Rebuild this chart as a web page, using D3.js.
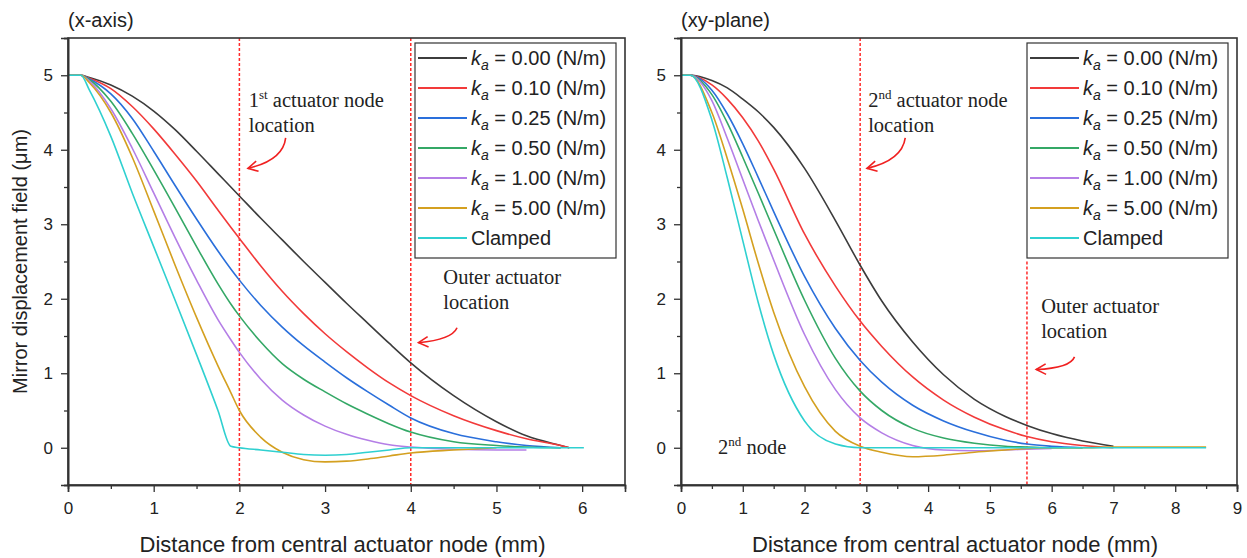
<!DOCTYPE html>
<html>
<head>
<meta charset="UTF-8">
<style>
  body { margin: 0; background: #fff; }
  svg text { font-family: "Liberation Sans", Arial, sans-serif; fill: #222; }
  svg text.serif { font-family: "Liberation Serif", "Times New Roman", serif; }
</style>
</head>
<body>
<svg id="chart" width="1247" height="558"></svg>
<script src="https://d3js.org/d3.v7.min.js"></script>
<script>

// ---- data ----
const kaLabels = ["0.00", "0.10", "0.25", "0.50", "1.00", "5.00"];
const clampedLabel = "Clamped";
const seriesColors = ["#3c3c3c", "#f23a3a", "#2a6fdb", "#34a866", "#b47ee6", "#d4a020", "#2fd0d0"];

const xTicksLeft = [0, 1, 2, 3, 4, 5, 6];
const xTicksRight = [0, 1, 2, 3, 4, 5, 6, 7, 8, 9];
const yTicks = [0, 1, 2, 3, 4, 5];

// (x-axis) panel
const leftX     = [0, 0.15, 0.25, 0.5, 0.75, 1, 1.25, 1.5, 1.75, 1.9, 2, 2.25, 2.5, 2.75, 3, 3.25, 3.5, 3.75, 4, 4.5, 5, 5.35, 5.75, 5.85, 6.02];
const leftK000  = [5, 5, 4.97, 4.87, 4.72, 4.52, 4.27, 3.98, 3.68, 3.5, 3.38, 3.08, 2.79, 2.5, 2.22, 1.94, 1.67, 1.4, 1.14, 0.7, 0.35, 0.16, 0.03, 0, null];
const leftK010  = [5, 5, 4.96, 4.82, 4.58, 4.28, 3.94, 3.58, 3.19, 2.96, 2.81, 2.44, 2.1, 1.8, 1.53, 1.29, 1.07, 0.87, 0.7, 0.43, 0.23, 0.12, 0.03, 0, null];
const leftK025  = [5, 5, 4.95, 4.75, 4.42, 3.98, 3.52, 3.07, 2.64, 2.4, 2.25, 1.91, 1.62, 1.37, 1.15, 0.94, 0.75, 0.57, 0.4, 0.19, 0.08, 0.03, 0, null, null];
const leftK050  = [5, 5, 4.94, 4.65, 4.22, 3.73, 3.22, 2.7, 2.2, 1.93, 1.77, 1.42, 1.13, 0.92, 0.75, 0.59, 0.45, 0.32, 0.21, 0.08, 0.03, 0.01, 0, null, null];
const leftK100  = [5, 5, 4.92, 4.55, 4.02, 3.42, 2.82, 2.25, 1.72, 1.45, 1.28, 0.92, 0.64, 0.44, 0.29, 0.18, 0.1, 0.04, 0.01, -0.02, -0.03, -0.03, null, null, null];
const leftK500  = [5, 5, 4.9, 4.5, 3.9, 3.18, 2.45, 1.75, 1.1, 0.74, 0.5, 0.14, -0.06, -0.16, -0.19, -0.18, -0.15, -0.11, -0.07, -0.03, 0, null, null, null, null];
const leftClamp = [5, 5, 4.8, 4.18, 3.42, 2.7, 1.98, 1.25, 0.5, 0.02, 0, -0.03, -0.06, -0.09, -0.1, -0.09, -0.06, -0.03, 0, 0, 0, 0, 0, 0, 0];

// (xy-plane) panel
const rightX     = [0, 0.15, 0.5, 0.75, 1, 1.25, 1.5, 2, 2.5, 2.9, 3.25, 3.75, 4.25, 4.75, 5.25, 5.6, 6, 6.5, 7, 7.5, 8, 8.5];
const rightK000  = [5, 5, 4.93, 4.83, 4.68, 4.51, 4.3, 3.75, 3.05, 2.45, 1.97, 1.42, 0.98, 0.65, 0.42, 0.3, 0.19, 0.09, 0.02, null, null, null];
const rightK010  = [5, 5, 4.87, 4.68, 4.43, 4.12, 3.74, 2.87, 2.17, 1.7, 1.36, 0.95, 0.64, 0.41, 0.24, 0.15, 0.08, 0.03, 0, null, null, null];
const rightK025  = [5, 5, 4.8, 4.48, 4.08, 3.63, 3.17, 2.3, 1.6, 1.17, 0.88, 0.57, 0.36, 0.21, 0.1, 0.05, 0.02, 0, null, null, null, null];
const rightK050  = [5, 5, 4.74, 4.36, 3.9, 3.42, 2.93, 1.98, 1.2, 0.76, 0.5, 0.26, 0.13, 0.06, 0.02, 0.01, 0, 0, null, null, null, null];
const rightK100  = [5, 5, 4.66, 4.15, 3.6, 3.05, 2.52, 1.52, 0.78, 0.4, 0.2, 0.03, -0.03, -0.04, -0.03, -0.02, -0.01, null, null, null, null, null];
const rightK500  = [5, 5, 4.5, 3.88, 3.2, 2.48, 1.82, 0.82, 0.22, 0.02, -0.06, -0.12, -0.1, -0.06, -0.03, -0.01, 0, 0, 0.01, 0.01, 0.01, 0.01];
const rightClamp = [5, 5, 4.4, 3.62, 2.78, 1.95, 1.25, 0.36, 0.05, 0, 0, 0, 0, 0, 0, 0, 0, 0, 0, 0, 0, 0];

// annotations, in data units of each panel
const leftNotes = [
    { lines: [["1", "st", " actuator node"], ["location"]], x: 2.11, y: 4.58, arrow: [[2.54, 4.16], [2.51, 3.86], [2.10, 3.75]] },
    { lines: [["Outer actuator"], ["location"]], x: 4.38, y: 2.2, arrow: [[4.54, 1.61], [4.48, 1.45], [4.09, 1.41]] }
];
const rightNotes = [
    { lines: [["2", "nd", " actuator node"], ["location"]], x: 3.03, y: 4.58, arrow: [[3.63, 4.16], [3.58, 3.86], [3.01, 3.75]] },
    { lines: [["Outer actuator"], ["location"]], x: 5.83, y: 1.81, arrow: [[6.37, 1.22], [6.30, 1.07], [5.75, 1.05]] },
    { lines: [["2", "nd", " node"]], x: 0.6, y: -0.09, arrow: null }
];

// dashed actuator markers: [x, yTop] (null = top of plot)
const leftMarkers = [[2, null], [4, null]];
const rightMarkers = [[2.9, null], [5.6, 2.5]];

// ---- drawing ----
const svg = d3.select("#chart");

const panels = [
    { title: "(x-axis)", left: 68, right: 625, xMax: 6.5, xTicks: xTicksLeft, xs: leftX,
      ys: [leftK000, leftK010, leftK025, leftK050, leftK100, leftK500, leftClamp],
      notes: leftNotes, markers: leftMarkers, yLabel: true },
    { title: "(xy-plane)", left: 681, right: 1237, xMax: 9, xTicks: xTicksRight, xs: rightX,
      ys: [rightK000, rightK010, rightK025, rightK050, rightK100, rightK500, rightClamp],
      notes: rightNotes, markers: rightMarkers, yLabel: false }
];

const plotTop = 38, plotBottom = 485;

panels.forEach(function (p) {
    const x = d3.scaleLinear().domain([0, p.xMax]).range([p.left, p.right]);
    const y = d3.scaleLinear().domain([-0.5, 5.5]).range([plotBottom, plotTop]);
    const g = svg.append("g");

    // dashed red markers
    p.markers.forEach(function (m) {
        g.append("line")
            .attr("x1", x(m[0])).attr("x2", x(m[0]))
            .attr("y1", m[1] == null ? plotTop : y(m[1])).attr("y2", plotBottom)
            .attr("stroke", "#ff2a2a")
            .attr("stroke-width", 1.5)
            .attr("stroke-dasharray", "3,2");
    });

    // curves
    p.ys.forEach(function (vals, i) {
        const pts = p.xs.map((xv, j) => [xv, vals[j]]);
        const line = d3.line()
            .defined(d => d[1] != null)
            .x(d => x(d[0]))
            .y(d => y(d[1]))
            .curve(d3.curveMonotoneX);
        g.append("path")
            .datum(pts)
            .attr("fill", "none")
            .attr("stroke", seriesColors[i])
            .attr("stroke-width", 1.6)
            .attr("d", line);
    });

    // frame
    g.append("rect")
        .attr("x", p.left).attr("y", plotTop)
        .attr("width", p.right - p.left).attr("height", plotBottom - plotTop)
        .attr("fill", "none").attr("stroke", "#333").attr("stroke-width", 1.6);

    // axes
    g.append("g").attr("transform", "translate(0," + plotBottom + ")")
        .call(d3.axisBottom(x).tickValues(p.xTicks).tickSize(7).tickPadding(10).tickFormat(d3.format("d")));
    g.append("g").attr("transform", "translate(0," + plotBottom + ")")
        .call(d3.axisBottom(x).tickValues(d3.range(0.5, p.xMax, 1)).tickSize(4).tickFormat(""));
    g.append("g").attr("transform", "translate(" + p.left + ",0)")
        .call(d3.axisLeft(y).tickValues(yTicks).tickSize(7).tickPadding(8).tickFormat(d3.format("d")));
    g.append("g").attr("transform", "translate(" + p.left + ",0)")
        .call(d3.axisLeft(y).tickValues(d3.range(-0.5, 5.6, 1)).tickSize(4).tickFormat(""));
    g.selectAll(".domain").attr("stroke", "#333").attr("stroke-width", 1.6);
    g.selectAll(".tick line").attr("stroke", "#333").attr("stroke-width", 1.3);
    g.selectAll(".tick text").style("font-size", "17px").attr("fill", "#222");

    // title
    g.append("text").attr("x", p.left).attr("y", 27)
        .style("font-size", "20px").text(p.title);

    // x label
    g.append("text").attr("x", (p.left + p.right) / 2 - 4).attr("y", 552)
        .attr("text-anchor", "middle").style("font-size", "22px")
        .text("Distance from central actuator node (mm)");

    if (p.yLabel) {
        g.append("text")
            .attr("transform", "translate(27," + ((plotTop + plotBottom) / 2) + ") rotate(-90)")
            .attr("text-anchor", "middle").style("font-size", "20px")
            .text("Mirror displacement field (\u03bcm)");
    }

    // legend
    const lg = g.append("g").attr("transform", "translate(" + (p.right - 210) + ",43)");
    lg.append("rect").attr("width", 201).attr("height", 215)
        .attr("fill", "#fff").attr("stroke", "#333").attr("stroke-width", 1.2);
    const labels = kaLabels.map(k => ({ ka: k })).concat([{ ka: null }]);
    labels.forEach(function (d, i) {
        const cy = 15 + i * 30;
        lg.append("line").attr("x1", 3).attr("x2", 52).attr("y1", cy).attr("y2", cy)
            .attr("stroke", seriesColors[i]).attr("stroke-width", 2);
        const t = lg.append("text").attr("x", 56).attr("y", cy + 7).style("font-size", "20px");
        if (d.ka == null) {
            t.text(clampedLabel);
        } else {
            t.append("tspan").style("font-style", "italic").text("k");
            t.append("tspan").attr("dy", 5).style("font-style", "italic").style("font-size", "14px").text("a");
            t.append("tspan").attr("dy", -5).text(" = " + d.ka + " (N/m)");
        }
    });

    // annotations
    p.notes.forEach(function (n) {
        n.lines.forEach(function (ln, li) {
            const t = g.append("text").attr("class", "serif")
                .attr("x", x(n.x)).attr("y", y(n.y) + li * 25)
                .style("font-size", "20.5px");
            if (ln.length === 3) {
                t.append("tspan").text(ln[0]);
                t.append("tspan").attr("dy", -8).style("font-size", "13px").text(ln[1]);
                t.append("tspan").attr("dy", 8).text(ln[2]);
            } else {
                t.text(ln[0]);
            }
        });
        if (n.arrow) {
            const a = n.arrow.map(d => [x(d[0]), y(d[1])]);
            g.append("path")
                .attr("d", "M" + a[0] + "Q" + a[1] + " " + a[2])
                .attr("fill", "none").attr("stroke", "#f02020").attr("stroke-width", 1.6);
            const ang = Math.atan2(a[2][1] - a[1][1], a[2][0] - a[1][0]);
            const head = [-0.5, 0.5].map(function (da) {
                return [a[2][0] - 11 * Math.cos(ang + da), a[2][1] - 11 * Math.sin(ang + da)];
            });
            g.append("path")
                .attr("d", "M" + head[0] + "L" + a[2] + "L" + head[1])
                .attr("fill", "none").attr("stroke", "#f02020").attr("stroke-width", 1.6);
        }
    });
});

</script>
</body>
</html>
